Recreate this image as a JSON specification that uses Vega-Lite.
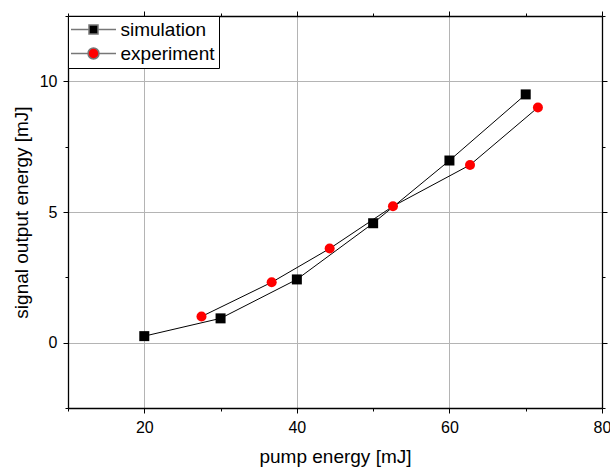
{
  "$schema": "https://vega.github.io/schema/vega-lite/v6.json",
  "width": 534,
  "height": 392,
  "autosize": "none",
  "padding": {"left": 68, "top": 16, "right": 8, "bottom": 60},
  "background": "white",
  "config": {
    "font": "Liberation Sans",
    "view": {"stroke": null},
    "axis": {
      "domainColor": "black",
      "domainWidth": 1.3,
      "tickColor": "black",
      "tickWidth": 1,
      "labelColor": "black",
      "labelFont": "Liberation Sans",
      "labelFontSize": 16,
      "titleColor": "black",
      "titleFont": "Liberation Sans",
      "titleFontSize": 19,
      "titleFontWeight": "normal",
      "gridColor": "#b4b4b4",
      "gridWidth": 1
    },
    "legend": {
      "orient": "top-left",
      "offset": 0,
      "padding": 4,
      "strokeColor": "black",
      "fillColor": "white",
      "labelFont": "Liberation Sans",
      "labelFontSize": 19,
      "labelColor": "black",
      "symbolOffset": 12,
      "labelOffset": 17.5,
      "symbolSize": 100,
      "symbolOpacity": 1,
      "rowPadding": 4
    }
  },
  "data": {
    "values": [
      {"series": "simulation", "pump": 20, "signal": 0.25},
      {"series": "simulation", "pump": 30, "signal": 0.93},
      {"series": "simulation", "pump": 40, "signal": 2.42},
      {"series": "simulation", "pump": 50, "signal": 4.57},
      {"series": "simulation", "pump": 60, "signal": 6.97},
      {"series": "simulation", "pump": 70, "signal": 9.5},
      {"series": "experiment", "pump": 27.5, "signal": 1.0},
      {"series": "experiment", "pump": 36.7, "signal": 2.31},
      {"series": "experiment", "pump": 44.3, "signal": 3.6},
      {"series": "experiment", "pump": 52.6, "signal": 5.22},
      {"series": "experiment", "pump": 62.7, "signal": 6.8},
      {"series": "experiment", "pump": 71.6, "signal": 9.0}
    ]
  },
  "layer": [
    {
      "mark": {"type": "line", "color": "black", "strokeWidth": 1},
      "encoding": {
        "x": {
          "field": "pump", "type": "quantitative",
          "scale": {"domain": [10, 80], "nice": false, "zero": false},
          "axis": {
            "orient": "bottom",
            "title": "pump energy [mJ]",
            "values": [10, 20, 30, 40, 50, 60, 70, 80],
            "labelExpr": "datum.value % 20 === 0 ? datum.label : ''",
            "tickSize": {"condition": {"test": "datum.value % 20 === 0", "value": 5}, "value": 3},
            "grid": true,
            "gridOpacity": {"condition": {"test": "datum.value % 20 === 0 && datum.value < 80", "value": 1}, "value": 0},
            "labelPadding": 6,
            "titlePadding": 12,
            "labelFlush": false,
            "labelOverlap": false
          }
        },
        "y": {
          "field": "signal", "type": "quantitative",
          "scale": {"domain": [-2.5, 12.5], "nice": false, "zero": false},
          "axis": {
            "orient": "left",
            "title": "signal output energy [mJ]",
            "values": [-2.5, 0, 2.5, 5, 7.5, 10, 12.5],
            "labelExpr": "datum.value % 5 === 0 ? datum.label : ''",
            "tickSize": {"condition": {"test": "datum.value % 5 === 0", "value": 5}, "value": 3},
            "grid": true,
            "gridOpacity": {"condition": {"test": "datum.value % 5 === 0", "value": 1}, "value": 0},
            "labelPadding": 6,
            "titlePadding": 8,
            "labelFlush": false,
            "labelOverlap": false
          }
        },
        "detail": {"field": "series"}
      }
    },
    {
      "transform": [{"filter": "datum.series === 'simulation'"}],
      "mark": {"type": "point", "filled": true, "opacity": 1, "shape": "square", "color": "black", "size": 100},
      "encoding": {
        "x": {
          "field": "pump", "type": "quantitative",
          "axis": {
            "orient": "top",
            "title": null,
            "labels": false,
            "grid": false,
            "values": [10, 20, 30, 40, 50, 60, 70, 80],
            "tickSize": {"condition": {"test": "datum.value % 20 === 0", "value": 5}, "value": 3}
          }
        },
        "y": {
          "field": "signal", "type": "quantitative",
          "axis": {
            "orient": "right",
            "title": null,
            "labels": false,
            "grid": false,
            "values": [-2.5, 0, 2.5, 5, 7.5, 10, 12.5],
            "tickSize": {"condition": {"test": "datum.value % 5 === 0", "value": 5}, "value": 3}
          }
        }
      }
    },
    {
      "transform": [{"filter": "datum.series === 'experiment'"}],
      "mark": {"type": "point", "filled": true, "opacity": 1, "shape": "circle", "color": "#ff0000", "size": 100},
      "encoding": {
        "x": {"field": "pump", "type": "quantitative", "axis": null},
        "y": {"field": "signal", "type": "quantitative", "axis": null}
      }
    },
    {
      "mark": {"type": "point", "filled": true, "opacity": 0, "stroke": "#777777", "strokeWidth": 1},
      "encoding": {
        "x": {"field": "pump", "type": "quantitative", "axis": null},
        "y": {"field": "signal", "type": "quantitative", "axis": null},
        "color": {
          "field": "series", "type": "nominal",
          "scale": {"domain": ["simulation", "experiment"], "range": ["black", "#ff0000"]},
          "legend": {"title": null}
        },
        "shape": {
          "field": "series", "type": "nominal",
          "scale": {
            "domain": ["simulation", "experiment"],
            "range": [
              "M-4.5,0H-0.9M0.9,0H4.5M-0.9,-0.9H0.9V0.9H-0.9Z",
              "M-4.5,0H-1.1M1.1,0H4.5M1.1,0A1.1,1.1,0,1,1,-1.1,0A1.1,1.1,0,1,1,1.1,0Z"
            ]
          },
          "legend": {"title": null}
        }
      }
    }
  ],
  "resolve": {
    "axis": {"x": "independent", "y": "independent"}
  }
}
